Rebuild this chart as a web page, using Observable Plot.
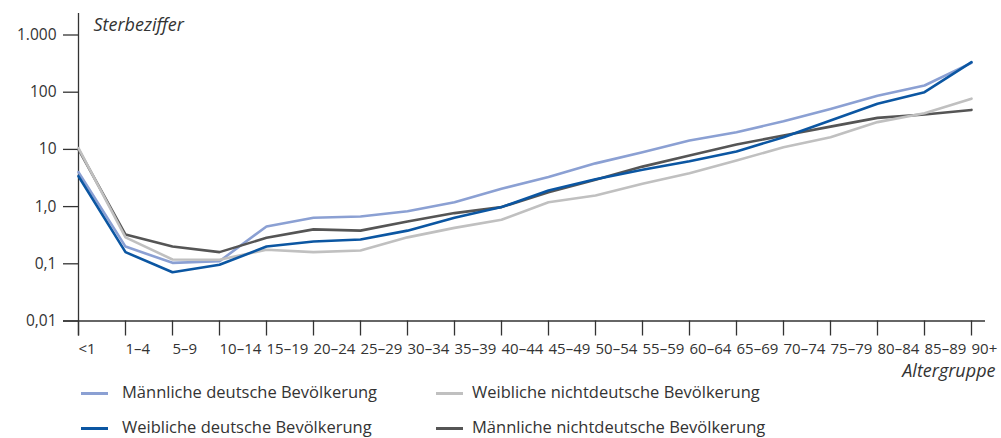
<!DOCTYPE html>
<html>
<head>
<meta charset="utf-8">
<script src="https://cdn.jsdelivr.net/npm/d3@7"></script>
<script src="https://cdn.jsdelivr.net/npm/@observablehq/plot@0.6"></script>
<style>
  html, body { margin: 0; padding: 0; background: #fff; }
  #wrap { position: relative; width: 1001px; height: 438px; font-family: "Open Sans", sans-serif; color: #333; overflow: hidden; }
  .leg { position: absolute; font-size: 16.5px; line-height: 22px; white-space: nowrap; }
  .sw { position: absolute; height: 3px; }
</style>
</head>
<body>
<div id="wrap"></div>
<script>
const ages = ["<1","1–4","5–9","10–14","15–19","20–24","25–29","30–34","35–39","40–44","45–49","50–54","55–59","60–64","65–69","70–74","75–79","80–84","85–89","90+"];

const maleGerman    = [4.0, 0.20, 0.104, 0.111, 0.45, 0.64, 0.67, 0.83, 1.19, 2.05, 3.3, 5.7, 8.9, 14.3, 20, 31, 51, 87, 131, 325];
const femaleGerman  = [3.4, 0.16, 0.071, 0.096, 0.20, 0.245, 0.266, 0.38, 0.64, 0.98, 1.91, 3.0, 4.4, 6.2, 9.2, 16.3, 32, 63, 100, 335];
const femaleForeign = [10.5, 0.29, 0.119, 0.118, 0.176, 0.16, 0.171, 0.29, 0.425, 0.59, 1.19, 1.56, 2.5, 3.84, 6.4, 10.9, 16.3, 30, 43, 77];
const maleForeign   = [10, 0.325, 0.20, 0.16, 0.285, 0.40, 0.38, 0.55, 0.77, 0.98, 1.79, 2.94, 5.0, 7.8, 12.2, 17.5, 25, 35.6, 40.7, 49];

const seriesNames = ["Männliche deutsche Bevölkerung", "Männliche nichtdeutsche Bevölkerung", "Weibliche nichtdeutsche Bevölkerung", "Weibliche deutsche Bevölkerung"];
const seriesValues = [maleGerman, maleForeign, femaleForeign, femaleGerman];
const seriesColors = ["#8ba0d3", "#555555", "#c0c0c0", "#0b56a2"];

const yTicks = [0.01, 0.1, 1, 10, 100, 1000];
const yTickLabels = ["0,01", "0,1", "1,0", "10", "100", "1.000"];

const yTitle = "Sterbeziffer";
const xTitle = "Altergruppe";

const rows = seriesNames.flatMap((name, s) => ages.map((age, i) => ({age, value: seriesValues[s][i], series: name})));

const W = 1001, H = 378;
const chart = Plot.plot({
  width: W, height: H,
  marginLeft: 78, marginRight: 30, marginTop: 34.5, marginBottom: 57.5,
  x: {type: "point", domain: ages, range: [78, 971], padding: 0, align: 0},
  y: {type: "log", domain: [0.01, 1000]},
  color: {domain: seriesNames, range: seriesColors},
  style: {fontFamily: "Open Sans, sans-serif", background: "white", color: "#333", overflow: "visible"},
  marks: [
    Plot.ruleX([ages[0]], {x: d => d, stroke: "#333", strokeWidth: 1.3, insetTop: -21.5, insetBottom: -15}),
    Plot.ruleY([0.01], {stroke: "#333", strokeWidth: 1.3, insetLeft: -15, insetRight: -14}),
    Plot.axisY({ticks: yTicks, tickFormat: d => yTickLabels[yTicks.findIndex(t => Math.abs(t - d) < d * 1e-6)], tickSize: 15, tickPadding: 7, fontSize: 15.5, strokeWidth: 1.3, stroke: "#333", label: null}),
    Plot.axisX({tickSize: 15, tickPadding: 7, textAnchor: "start", fontSize: 15, strokeWidth: 1.3, stroke: "#333", label: null}),
    Plot.line(rows, {x: "age", y: "value", z: "series", stroke: "series", strokeWidth: 2.6, strokeLinejoin: "round"}),
    Plot.text([yTitle], {frameAnchor: "top-left", dx: 15, dy: -10, textAnchor: "start", lineAnchor: "middle", fontSize: 18, fontStyle: "italic", fill: "#333"}),
    Plot.text([xTitle], {frameAnchor: "bottom-right", dx: 24, dy: 50, textAnchor: "end", lineAnchor: "middle", fontSize: 18, fontStyle: "italic", fill: "#333"})
  ]
});

const wrap = document.getElementById("wrap");
wrap.appendChild(chart);

// legend below the chart
const legendLayout = [
  {name: seriesNames[0], color: seriesColors[0], col: 0, row: 0},
  {name: seriesNames[2], color: seriesColors[2], col: 1, row: 0},
  {name: seriesNames[3], color: seriesColors[3], col: 0, row: 1},
  {name: seriesNames[1], color: seriesColors[1], col: 1, row: 1}
];
const colX = [[81, 122], [436, 472]];
const rowY = [393, 428];
for (const item of legendLayout) {
  const sw = document.createElement("div");
  sw.className = "sw";
  sw.style.left = colX[item.col][0] + "px";
  sw.style.width = "27px";
  sw.style.top = (rowY[item.row] - 1) + "px";
  sw.style.background = item.color;
  wrap.appendChild(sw);
  const t = document.createElement("div");
  t.className = "leg";
  t.style.left = colX[item.col][1] + "px";
  t.style.top = (rowY[item.row] - 12) + "px";
  t.textContent = item.name;
  wrap.appendChild(t);
}
</script>
</body>
</html>
